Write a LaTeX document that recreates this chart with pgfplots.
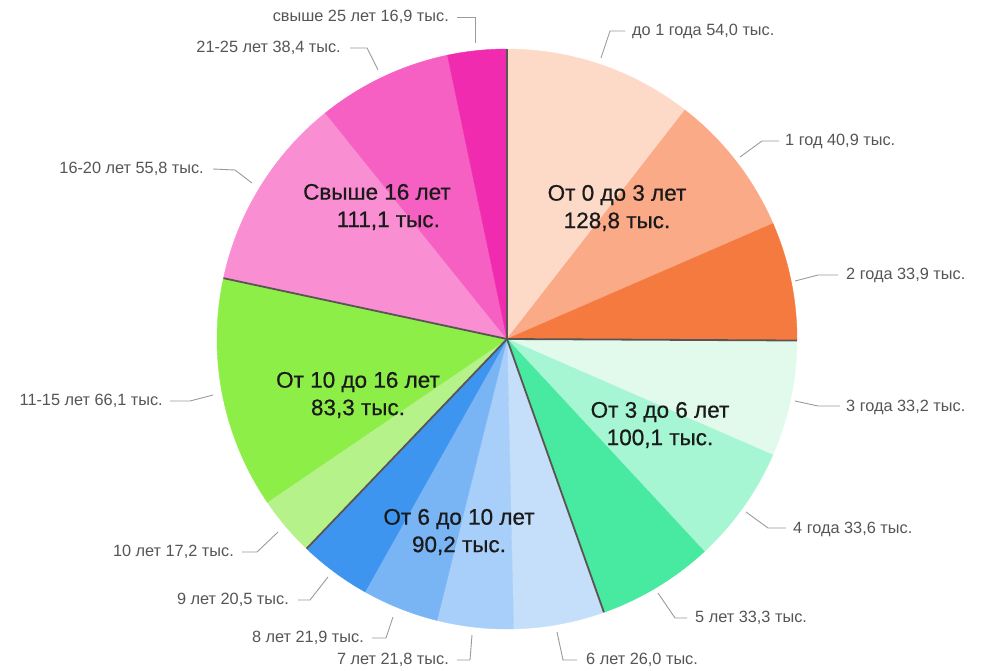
\documentclass[border=0pt]{standalone}
\usepackage{fontspec}
\setmainfont{Liberation Sans}
\newfontfamily\innerfont{Liberation Sans}[FakeBold=0.6]
\usepackage{pgfplots}
\usepackage{pgfplotstable}
\pgfplotsset{compat=1.18}

\definecolor{s0}{HTML}{FDDAC8}
\definecolor{s1}{HTML}{FBAA88}
\definecolor{s2}{HTML}{F47A40}
\definecolor{s3}{HTML}{E1FAEC}
\definecolor{s4}{HTML}{A6F6D3}
\definecolor{s5}{HTML}{47EAA0}
\definecolor{s6}{HTML}{C5DFFB}
\definecolor{s7}{HTML}{A8CFF9}
\definecolor{s8}{HTML}{79B4F5}
\definecolor{s9}{HTML}{3E95EF}
\definecolor{s10}{HTML}{B6F28A}
\definecolor{s11}{HTML}{8DEE48}
\definecolor{s12}{HTML}{F98ED3}
\definecolor{s13}{HTML}{F660C2}
\definecolor{s14}{HTML}{F12BB0}
\definecolor{lbl}{HTML}{555555}
\definecolor{lead}{HTML}{9A9A9A}
\definecolor{grp}{HTML}{5A5452}
\definecolor{intxt}{HTML}{1A1A1A}

% values (thousands), clockwise from 12 o'clock
\pgfplotstableread[col sep=comma]{
value
54.0
40.9
33.9
33.2
33.6
33.3
26.0
21.8
21.9
20.5
17.2
66.1
55.8
38.4
16.9
}\piedata

\pgfplotstablegetrowsof{\piedata}
\pgfmathtruncatemacro{\nlast}{\pgfplotsretval-1}
\gdef\total{0}
\foreach \i in {0,...,\nlast}{%
  \pgfplotstablegetelem{\i}{value}\of\piedata
  \pgfmathsetmacro{\tmp}{\total+\pgfplotsretval}%
  \xdef\total{\tmp}%
}
\gdef\cum{0}
\foreach \i in {0,...,\nlast}{%
  \pgfplotstablegetelem{\i}{value}\of\piedata
  \pgfmathsetmacro{\aa}{\cum/\total*360}%
  \pgfmathsetmacro{\tmp}{\cum+\pgfplotsretval}%
  \pgfmathsetmacro{\bb}{\tmp/\total*360}%
  \expandafter\xdef\csname pa\i\endcsname{\aa}%
  \expandafter\xdef\csname pb\i\endcsname{\bb}%
  \xdef\cum{\tmp}%
}

\newcommand{\cx}{507}
\newcommand{\cy}{339}
\newcommand{\rr}{290}

\begin{document}
\begin{tikzpicture}
\begin{axis}[
  width=987pt, height=670pt, scale only axis,
  xmin=0, xmax=987, ymin=0, ymax=670, y dir=reverse,
  hide axis, clip=false,
]
\path (axis cs:0,0) rectangle (axis cs:987,670);
\pgfplotsinvokeforeach{0,...,14}{
  \addplot[draw=s#1, line width=0.4pt, fill=s#1, domain=\csname pa#1\endcsname:\csname pb#1\endcsname,
    samples=80, variable=\t]
    ({\cx+\rr*sin(\t)},{\cy-\rr*cos(\t)}) -- (axis cs:\cx,\cy) -- cycle;
}
% group boundaries
\pgfplotsinvokeforeach{2,5,9,11,14}{
  \draw[grp, line width=1.8pt] (axis cs:\cx,\cy) --
    (axis cs:{\cx+\rr*sin(\csname pb#1\endcsname)},{\cy-\rr*cos(\csname pb#1\endcsname)});
}

% leader lines
\begin{scope}[lead, line width=0.9pt]
\draw (axis cs:601,58) -- (axis cs:610,31) -- (axis cs:625,31);
\draw (axis cs:740,157) -- (axis cs:762,141) -- (axis cs:779,141);
\draw (axis cs:795,281) -- (axis cs:818,275) -- (axis cs:838,275);
\draw (axis cs:795,401) -- (axis cs:818,406) -- (axis cs:840,406);
\draw (axis cs:746,512) -- (axis cs:768,528) -- (axis cs:786,528);
\draw (axis cs:658,593) -- (axis cs:675,618) -- (axis cs:687,618);
\draw (axis cs:557,632) -- (axis cs:563,660) -- (axis cs:577,660);
\draw (axis cs:472,635) -- (axis cs:470,660) -- (axis cs:457,660);
\draw (axis cs:393,617) -- (axis cs:386,638) -- (axis cs:372,638);
\draw (axis cs:328,577) -- (axis cs:310,600) -- (axis cs:298,600);
\draw (axis cs:278,532) -- (axis cs:257,552) -- (axis cs:242,552);
\draw (axis cs:213,395) -- (axis cs:190,401) -- (axis cs:170,401);
\draw (axis cs:252,183) -- (axis cs:235,170) -- (axis cs:213,169);
\draw (axis cs:378,70) -- (axis cs:367,48) -- (axis cs:350,48);
\draw (axis cs:475,43) -- (axis cs:475,17) -- (axis cs:457,17);
\end{scope}

% outer labels
\begin{scope}[every node/.style={text=lbl, font=\fontsize{16.3}{19}\selectfont, inner sep=0pt}]
\node[anchor=west] at (axis cs:632,31) {до 1 года 54,0 тыс.};
\node[anchor=west] at (axis cs:785,141) {1 год 40,9 тыс.};
\node[anchor=west] at (axis cs:846,275) {2 года 33,9 тыс.};
\node[anchor=west] at (axis cs:846,407) {3 года 33,2 тыс.};
\node[anchor=west] at (axis cs:793,529) {4 года 33,6 тыс.};
\node[anchor=west] at (axis cs:695,618) {5 лет 33,3 тыс.};
\node[anchor=west] at (axis cs:586,660) {6 лет 26,0 тыс.};
\node[anchor=east] at (axis cs:449,660) {7 лет 21,8 тыс.};
\node[anchor=east] at (axis cs:364,638) {8 лет 21,9 тыс.};
\node[anchor=east] at (axis cs:289,600) {9 лет 20,5 тыс.};
\node[anchor=east] at (axis cs:234,552) {10 лет 17,2 тыс.};
\node[anchor=east] at (axis cs:163,401) {11-15 лет 66,1 тыс.};
\node[anchor=east] at (axis cs:204,169) {16-20 лет 55,8 тыс.};
\node[anchor=east] at (axis cs:341,48) {21-25 лет 38,4 тыс.};
\node[anchor=east] at (axis cs:449,17) {свыше 25 лет 16,9 тыс.};
\end{scope}

% group labels
\begin{scope}[every node/.style={text=intxt, font=\innerfont\fontsize{22.5}{27.5}\selectfont, align=center, inner sep=0pt}]
\node at (axis cs:617,208) {От 0 до 3 лет\\128,8 тыс.};
\node at (axis cs:660,425) {От 3 до 6 лет\\100,1 тыс.};
\node at (axis cs:459,532) {От 6 до 10 лет\\90,2 тыс.};
\node at (axis cs:358,395) {От 10 до 16 лет\\83,3 тыс.};
\node at (axis cs:377,207) {Свыше 16 лет\\\hspace*{1.0em}111,1 тыс.};
\end{scope}
\end{axis}
\end{tikzpicture}
\end{document}
